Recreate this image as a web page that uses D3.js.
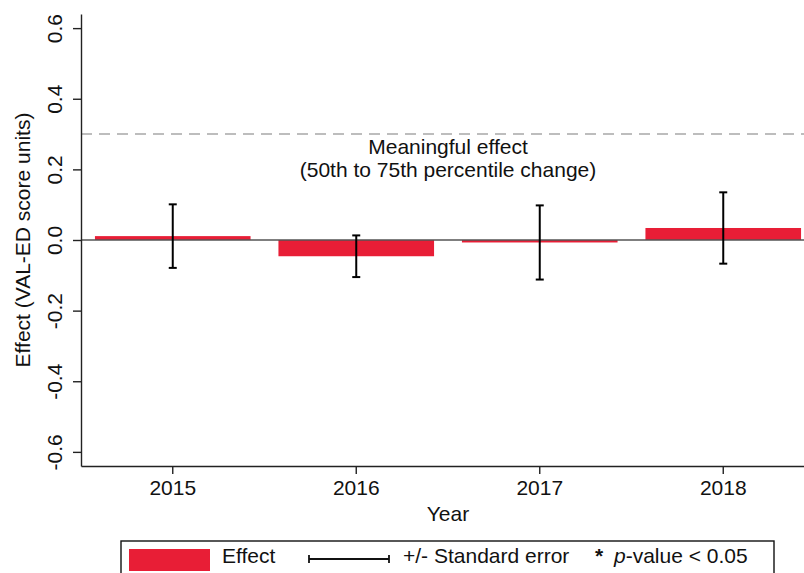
<!DOCTYPE html>
<html>
<head>
<meta charset="utf-8">
<script src="https://cdn.jsdelivr.net/npm/d3@7"></script>
<style>
  html, body { margin: 0; padding: 0; background: #fff; }
  svg { display: block; }
  text { font-family: "Liberation Sans", Arial, sans-serif; fill: #111; }
</style>
</head>
<body>
<svg id="chart" width="804" height="573"></svg>
<script>
// Yearly effect estimates with standard errors
const years = ["2015", "2016", "2017", "2018"];
const effects = [0.011, -0.046, -0.007, 0.034];
const stdErrors = [0.090, 0.059, 0.105, 0.101];
const yTicks = [-0.6, -0.4, -0.2, 0.0, 0.2, 0.4, 0.6];
const meaningfulEffect = 0.3;
const annotationLines = ["Meaningful effect", "(50th to 75th percentile change)"];

const barColor = "#e81e36";
const fontSize = 21;

const svg = d3.select("#chart");
const plotLeft = 81, plotRight = 815, plotTop = 14, plotBottom = 466;

const x = d3.scaleBand()
  .domain(years)
  .range([plotLeft, plotRight])
  .paddingInner(0.152)
  .paddingOuter(0.076);

const y = d3.scaleLinear()
  .domain([-0.64, 0.64])
  .range([plotBottom, plotTop]);

const fmt = v => v.toFixed(1);

// reference line for a meaningful effect
svg.append("line")
  .attr("x1", plotLeft).attr("x2", 804)
  .attr("y1", y(meaningfulEffect)).attr("y2", y(meaningfulEffect))
  .attr("stroke", "#bdbdbd").attr("stroke-width", 2)
  .attr("stroke-dasharray", "11,7");

const cx = (plotLeft + plotRight) / 2;
svg.append("text")
  .attr("x", cx).attr("y", 154)
  .attr("text-anchor", "middle")
  .style("font-size", fontSize + "px")
  .text(annotationLines[0]);
svg.append("text")
  .attr("x", cx).attr("y", 177)
  .attr("text-anchor", "middle")
  .style("font-size", fontSize + "px")
  .text(annotationLines[1]);

// bars
const rows = years.map((yr, i) => ({ year: yr, effect: effects[i], se: stdErrors[i] }));

svg.append("g").selectAll("rect")
  .data(rows)
  .join("rect")
  .attr("x", d => x(d.year))
  .attr("width", x.bandwidth())
  .attr("y", d => y(Math.max(0, d.effect)))
  .attr("height", d => Math.abs(y(d.effect) - y(0)))
  .attr("fill", barColor);

// zero line
svg.append("line")
  .attr("x1", plotLeft).attr("x2", 804)
  .attr("y1", y(0)).attr("y2", y(0))
  .attr("stroke", "#555").attr("stroke-width", 1.5);

// error bars
const capHalf = 4;
const eb = svg.append("g").attr("stroke", "#000").attr("stroke-width", 2);
rows.forEach(d => {
  const xc = x(d.year) + x.bandwidth() / 2;
  const yHi = y(d.effect + d.se), yLo = y(d.effect - d.se);
  eb.append("line").attr("x1", xc).attr("x2", xc).attr("y1", yHi).attr("y2", yLo);
  eb.append("line").attr("x1", xc - capHalf).attr("x2", xc + capHalf).attr("y1", yHi).attr("y2", yHi);
  eb.append("line").attr("x1", xc - capHalf).attr("x2", xc + capHalf).attr("y1", yLo).attr("y2", yLo);
});

// y axis
const yAxis = svg.append("g")
  .attr("transform", `translate(${plotLeft},0)`)
  .call(d3.axisLeft(y).tickValues(yTicks).tickFormat(fmt).tickSize(8).tickSizeOuter(0));
yAxis.select(".domain").attr("stroke", "#222").attr("stroke-width", 1.4);
yAxis.selectAll(".tick line").attr("stroke", "#222").attr("stroke-width", 1.4);
yAxis.selectAll(".tick text")
  .attr("x", 0).attr("dy", null)
  .attr("transform", "translate(-19,0) rotate(-90)")
  .attr("text-anchor", "middle")
  .attr("fill", "#111")
  .style("font-size", fontSize + "px")
  .style("font-family", "'Liberation Sans', Arial, sans-serif");

// x axis
const xAxis = svg.append("g")
  .attr("transform", `translate(0,${plotBottom})`)
  .call(d3.axisBottom(x).tickSize(8).tickSizeOuter(0));
xAxis.select(".domain").attr("stroke", "#222").attr("stroke-width", 1.4);
xAxis.selectAll(".tick line").attr("stroke", "#222").attr("stroke-width", 1.4);
xAxis.selectAll(".tick text")
  .attr("y", 29).attr("dy", null)
  .attr("fill", "#111")
  .style("font-size", fontSize + "px")
  .style("font-family", "'Liberation Sans', Arial, sans-serif");

// axis titles
svg.append("text")
  .attr("x", cx).attr("y", 521)
  .attr("text-anchor", "middle")
  .style("font-size", fontSize + "px")
  .text("Year");

svg.append("text")
  .attr("transform", `translate(30,${(plotTop + plotBottom) / 2}) rotate(-90)`)
  .attr("text-anchor", "middle")
  .style("font-size", fontSize + "px")
  .text("Effect (VAL-ED score units)");

// legend
const lg = svg.append("g");
lg.append("rect")
  .attr("x", 121).attr("y", 541)
  .attr("width", 653).attr("height", 45)
  .attr("fill", "#fff").attr("stroke", "#111").attr("stroke-width", 1.4);
lg.append("rect")
  .attr("x", 129).attr("y", 549).attr("width", 81).attr("height", 22)
  .attr("fill", barColor);
lg.append("text")
  .attr("x", 222).attr("y", 563)
  .style("font-size", fontSize + "px")
  .text("Effect");
const lgEb = lg.append("g").attr("stroke", "#111").attr("stroke-width", 1.8);
lgEb.append("line").attr("x1", 309).attr("x2", 389).attr("y1", 559).attr("y2", 559);
lgEb.append("line").attr("x1", 309).attr("x2", 309).attr("y1", 555).attr("y2", 563);
lgEb.append("line").attr("x1", 389).attr("x2", 389).attr("y1", 555).attr("y2", 563);
lg.append("text")
  .attr("x", 403).attr("y", 563)
  .style("font-size", fontSize + "px")
  .text("+/- Standard error");
const pv = lg.append("text")
  .attr("x", 595).attr("y", 563)
  .style("font-size", fontSize + "px");
pv.append("tspan").style("font-weight", "bold").text("*");
pv.append("tspan").attr("x", 614).style("font-style", "italic").text("p");
pv.append("tspan").text("-value < 0.05");
</script>
</body>
</html>
